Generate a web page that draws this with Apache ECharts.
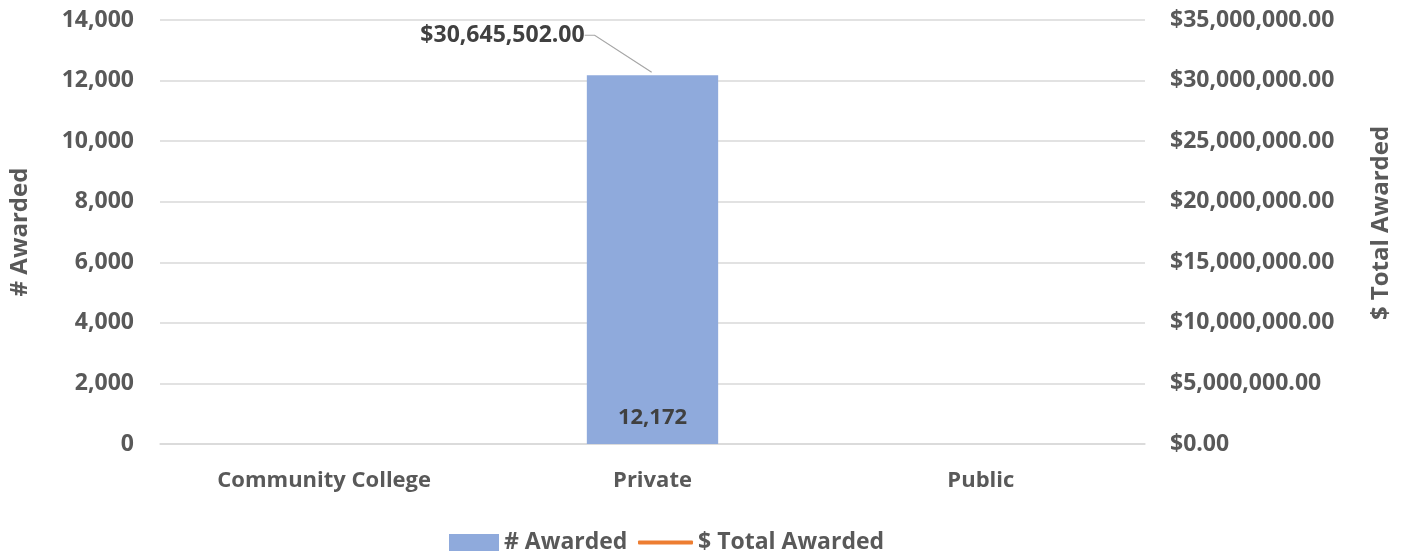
<!DOCTYPE html>
<html><head><meta charset="utf-8">
<script src="https://cdn.jsdelivr.net/npm/echarts@6/dist/echarts.min.js"></script>
<style>html,body{margin:0;padding:0;background:#fff}#c{width:1408px;height:554px}</style>
</head><body><div id="c"></div>
<script>
const categories = ['Community College', 'Private', 'Public'];
const countAwarded = [null, 12172, null];
const totalAwarded = [null, 30645502, null];
const leftTicks = {min: 0, max: 14000, interval: 2000};
const rightTicks = {min: 0, max: 35000000, interval: 5000000};

const FONT = '"Open Sans", sans-serif';
const AX = '#595959';
const ORANGE = '#ed7d31';
const chart = echarts.init(document.getElementById('c'));
const fmtMoney = v => '$' + Number(v).toLocaleString('en-US', {minimumFractionDigits: 2, maximumFractionDigits: 2});
const legendText = {fontFamily: FONT, fontWeight: 'bold', fontSize: 23, color: AX};
chart.setOption({
  animation: false,
  textStyle: {fontFamily: FONT},
  grid: {left: 159, right: 263, top: 20, bottom: 110},
  legend: [{
    top: 531, left: 449, padding: 0, itemWidth: 50, itemHeight: 17, itemGap: 12,
    textStyle: legendText, data: [{name: '# Awarded', icon: 'rect'}]
  }, {
    top: 531, left: 638, padding: 0, itemWidth: 55, itemHeight: 4, itemGap: 12,
    textStyle: legendText, data: [{name: '$ Total Awarded', icon: 'roundRect', itemStyle: {color: ORANGE}}]
  }],
  xAxis: {
    type: 'category', data: categories,
    axisLine: {show: true, lineStyle: {color: '#d9d9d9', width: 1.5}},
    axisTick: {show: false},
    axisLabel: {color: AX, fontWeight: 'bold', fontSize: 22, margin: 26, fontFamily: FONT}
  },
  yAxis: [{
    type: 'value', min: leftTicks.min, max: leftTicks.max, interval: leftTicks.interval,
    name: '# Awarded', nameLocation: 'middle', nameRotate: 90, nameGap: 128,
    nameTextStyle: {color: AX, fontWeight: 'bold', fontSize: 24, fontFamily: FONT},
    axisLabel: {color: AX, fontWeight: 'bold', fontSize: 23, margin: 26, fontFamily: FONT,
      formatter: v => v.toLocaleString('en-US')},
    splitLine: {lineStyle: {color: '#d9d9d9', width: 1.5}},
    axisLine: {show: false}, axisTick: {show: false}
  }, {
    type: 'value', min: rightTicks.min, max: rightTicks.max, interval: rightTicks.interval,
    name: '$ Total Awarded', nameLocation: 'middle', nameRotate: 90, nameGap: 224,
    nameTextStyle: {color: AX, fontWeight: 'bold', fontSize: 24, fontFamily: FONT, padding: [0, 0, 0, 18]},
    axisLabel: {color: AX, fontWeight: 'bold', fontSize: 23, margin: 25, fontFamily: FONT,
      formatter: fmtMoney},
    splitLine: {show: false},
    axisLine: {show: false}, axisTick: {show: false}
  }],
  series: [{
    name: '# Awarded', type: 'bar', data: countAwarded, barWidth: '40%',
    itemStyle: {color: '#8faadc'},
    label: {show: true, position: 'insideBottom', distance: 15, color: '#404040', fontWeight: 'bold', fontSize: 22,
      fontFamily: FONT, formatter: p => p.value.toLocaleString('en-US')}
  }, {
    name: '$ Total Awarded', type: 'line', yAxisIndex: 1, data: totalAwarded,
    symbol: 'circle', symbolSize: 2, showSymbol: true,
    lineStyle: {color: ORANGE, width: 4}, itemStyle: {color: 'rgba(0,0,0,0)'},
    label: {show: true, position: 'top', distance: 0, color: '#404040', fontWeight: 'bold', fontSize: 23, fontFamily: FONT,
      formatter: p => fmtMoney(p.value)},
    labelLayout: {dx: -150, dy: -25},
    labelLine: {show: true, length2: 10, minTurnAngle: 90, lineStyle: {color: '#a6a6a6', width: 1.2}}
  }]
});
</script></body></html>
